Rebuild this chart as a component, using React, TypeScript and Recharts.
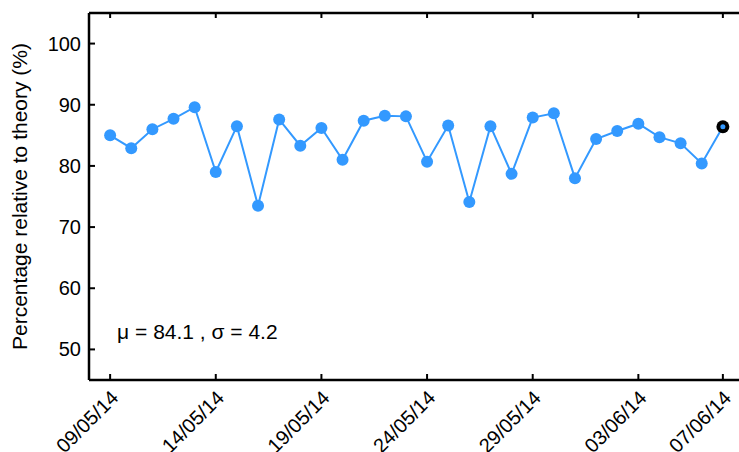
import React from 'react';
import {LineChart, Line, XAxis, YAxis, ReferenceDot} from 'recharts';

// one measurement per day, 09/05/14 .. 07/06/14
const dates = [
  '09/05/14', '10/05/14', '11/05/14', '12/05/14', '13/05/14', '14/05/14', '15/05/14', '16/05/14',
  '17/05/14', '18/05/14', '19/05/14', '20/05/14', '21/05/14', '22/05/14', '23/05/14', '24/05/14',
  '25/05/14', '26/05/14', '27/05/14', '28/05/14', '29/05/14', '30/05/14', '31/05/14', '01/06/14',
  '02/06/14', '03/06/14', '04/06/14', '05/06/14', '06/06/14', '07/06/14',
];

const percentages = [
  85.0, 82.9, 86.0, 87.7, 89.6, 79.0, 86.5, 73.5, 87.6, 83.3,
  86.2, 81.0, 87.4, 88.2, 88.1, 80.7, 86.6, 74.1, 86.5, 78.7,
  87.9, 88.6, 78.0, 84.4, 85.7, 86.9, 84.7, 83.7, 80.4, 86.4,
];

const xTicks = [0, 5, 10, 15, 20, 25, 29];
const yTicks = [50, 60, 70, 80, 90, 100];
const statsText = 'μ = 84.1 , σ = 4.2';

const BLUE = '#3399ff';
const FONT = '"Liberation Sans", Arial, Helvetica, sans-serif';

const data = percentages.map((value, day) => ({day, value}));
const lastIdx = data.length - 1;

const BottomTick = ({x, y, payload}: any) => {
  const tx = x + 9.5;
  const ty = y + 19;
  return (
    <g>
      <line x1={x} y1={y} x2={x} y2={y - 6} stroke="#000" strokeWidth={2}/>
      <text x={tx} y={ty} textAnchor="end" fontSize={20} fill="#000" fontFamily={FONT}
            transform={`rotate(-45, ${tx}, ${ty})`}>
        {dates[payload.value]}
      </text>
    </g>
  );
};

const TopTick = ({x, y}: any) => (
  <line x1={x} y1={y} x2={x} y2={y + 5} stroke="#000" strokeWidth={2}/>
);

const LeftTick = ({x, y, payload}: any) => (
  <g>
    <line x1={x} y1={y} x2={x + 6} y2={y} stroke="#000" strokeWidth={2}/>
    <text x={x - 8} y={y + 7} textAnchor="end" fontSize={20} fill="#000" fontFamily={FONT}>
      {payload.value}
    </text>
  </g>
);

const RightTick = ({x, y}: any) => (
  <line x1={x} y1={y} x2={x - 6} y2={y} stroke="#000" strokeWidth={2}/>
);

const renderDot = (props: any) => {
  const {cx, cy, index} = props;
  if (index === lastIdx) {
    return (
      <g key={index}>
        <circle cx={cx} cy={cy} r={6.5} fill="#000"/>
        <circle cx={cx} cy={cy} r={2.5} fill={BLUE}/>
      </g>
    );
  }
  return <circle key={index} cx={cx} cy={cy} r={6} fill={BLUE}/>;
};

const axisLine = {stroke: '#000', strokeWidth: 2.5};

const App = () => (
  <div style={{position: 'fixed', left: 0, top: 0, width: 739, height: 452, overflow: 'hidden', background: '#fff'}}>
    <LineChart
      width={760}
      height={452}
      data={data}
      margin={{top: 12, right: 15, bottom: 0, left: 0}}
      style={{fontFamily: FONT}}
    >
      <XAxis
        dataKey="day"
        type="number"
        domain={[-1, 30]}
        ticks={xTicks}
        interval={0}
        height={72}
        tickSize={0}
        tickMargin={0}
        tickLine={false}
        axisLine={axisLine}
        tick={BottomTick}
      />
      <XAxis
        xAxisId="top"
        orientation="top"
        dataKey="day"
        type="number"
        domain={[-1, 30]}
        ticks={xTicks}
        interval={0}
        height={1}
        tickSize={0}
        tickMargin={0}
        tickLine={false}
        axisLine={axisLine}
        tick={TopTick}
      />
      <YAxis
        type="number"
        domain={[45, 105]}
        ticks={yTicks}
        interval={0}
        width={89}
        tickSize={0}
        tickMargin={0}
        tickLine={false}
        axisLine={axisLine}
        tick={LeftTick}
        label={{
          value: 'Percentage relative to theory (%)',
          angle: -90,
          position: 'center',
          dx: -25,
          fontSize: 21,
          fill: '#000',
        }}
      />
      <YAxis
        yAxisId="right"
        orientation="right"
        type="number"
        domain={[45, 105]}
        ticks={yTicks}
        interval={0}
        width={1}
        tickSize={0}
        tickMargin={0}
        tickLine={false}
        axisLine={axisLine}
        tick={RightTick}
      />
      <ReferenceDot
        x={0.33}
        y={52.9}
        r={0}
        fill="none"
        stroke="none"
        label={{value: statsText, position: 'right', offset: 0, fontSize: 21, fill: '#000'}}
      />
      <Line
        type="linear"
        dataKey="value"
        stroke={BLUE}
        strokeWidth={2}
        dot={renderDot}
        activeDot={false}
        isAnimationActive={false}
      />
    </LineChart>
  </div>
);

export default App;
